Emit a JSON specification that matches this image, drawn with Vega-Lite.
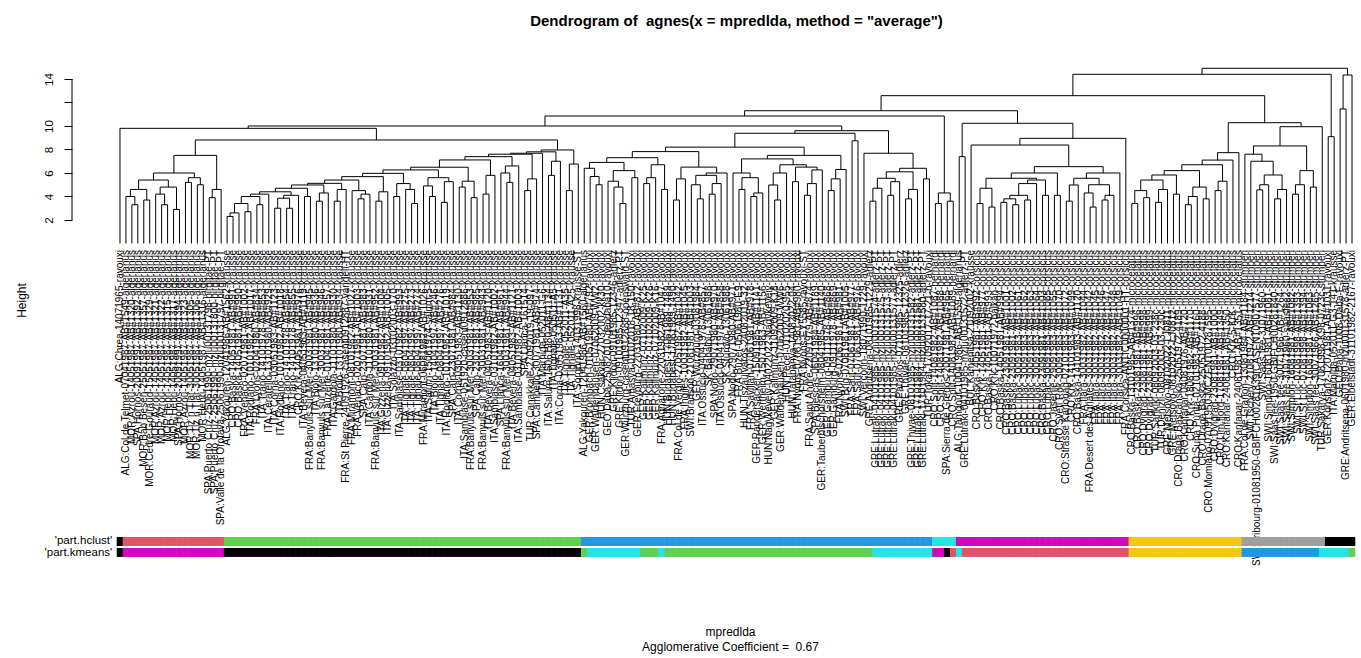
{
"$schema": "https://vega.github.io/schema/vega-lite/v6.json",
"width": 1289,
"height": 500,
"autosize": {"type": "none"},
"padding": {"left": 72, "top": 60, "right": 0, "bottom": 98},
"background": "white",
"title": {"text": "Dendrogram of\u00a0 agnes(x = mpredlda, method = \"average\")", "font": "Liberation Sans", "fontSize": 15, "fontWeight": "bold", "color": "black", "anchor": "middle", "dx": 20, "offset": 19, "baseline": "alphabetic"},
"config": {"view": {"stroke": null}, "axis": {"grid": false, "labelFont": "Liberation Sans", "titleFont": "Liberation Sans", "labelColor": "black", "titleColor": "black", "tickColor": "black", "domainColor": "black"}, "text": {"font": "Liberation Sans"}, "scale": {"continuousPadding": 0}},
"datasets": {
"leaves": [
{"i":1,"label":"ALG:Chrea-14071965-ravouxi","hc":1,"km":1},
{"i":2,"label":"ALG:Col de Telmet-07041987-AB#1549-algerianus","hc":2,"km":6},
{"i":3,"label":"MOR:Azrou-14051987-AB#1320-algerianus","hc":2,"km":6},
{"i":4,"label":"SPA:Hornos-20091997-AB#1392-algerianus","hc":2,"km":6},
{"i":5,"label":"MOR:Bab Besen-25051987-AB#1357-algerianus","hc":2,"km":6},
{"i":6,"label":"MOR:Cedre Gouraud-15051987-AB#1329-algerianus","hc":2,"km":6},
{"i":7,"label":"MOR:Azrou-14051987-AB#1321-algerianus","hc":2,"km":6},
{"i":8,"label":"MOR:Azrou-14051987-AB#1322-algerianus","hc":2,"km":6},
{"i":9,"label":"MOR:Hebri-14051987-AB#1315-algerianus","hc":2,"km":6},
{"i":10,"label":"MOR:Hebri-14051987-AB#1317-algerianus","hc":2,"km":6},
{"i":11,"label":"SPA:Hornos-20091997-AB#1394-algerianus","hc":2,"km":6},
{"i":12,"label":"MOR:Azrou-14051987-AB#1323-algerianus","hc":2,"km":6},
{"i":13,"label":"MOR:Tiz n Tlar-30051987-AB#1305-algerianus","hc":2,"km":6},
{"i":14,"label":"MOR:Tiz n Tlar-30051987-AB#1306-algerianus","hc":2,"km":6},
{"i":15,"label":"MOR:Hebri-14051987-AB#1316-algerianus","hc":2,"km":6},
{"i":16,"label":"SPA:Puerto Cruz-25061990-mzlu00131798-birgitae-PT","hc":2,"km":6},
{"i":17,"label":"SPA:Puerto Cruz-25061990-mzlu00131800-birgitae-PT","hc":2,"km":6},
{"i":18,"label":"SPA:Valle de la Orotava-25061990-mzlu00131797-birgitae-PT","hc":2,"km":6},
{"i":19,"label":"ALG:Yakouren-12041986-AB#1562-krausse","hc":3,"km":1},
{"i":20,"label":"CRO:Baska-14051981-AB#991-krausse","hc":3,"km":1},
{"i":21,"label":"CRO:Baska-14051981-AB#990-krausse","hc":3,"km":1},
{"i":22,"label":"FRA:Venaco-02071981-AB#1002-krausse","hc":3,"km":1},
{"i":23,"label":"ITA:Rodiano-10101982-AB#1017-krausse","hc":3,"km":1},
{"i":24,"label":"FRA:Lyons-02041980-AB#834-krausse","hc":3,"km":1},
{"i":25,"label":"ITA:Trano-14101978-AB#853-krausse","hc":3,"km":1},
{"i":26,"label":"ITA:Ceratello-13101980-AB#929-krausse","hc":3,"km":1},
{"i":27,"label":"ITA:Corna-03051983-AB#1123-krausse","hc":3,"km":1},
{"i":28,"label":"ITA:Rodiano-10101982-AB#1018-krausse","hc":3,"km":1},
{"i":29,"label":"ITA:Trano-14101978-AB#854-krausse","hc":3,"km":1},
{"i":30,"label":"ITA:Trano-14101978-AB#855-krausse","hc":3,"km":1},
{"i":31,"label":"CRO:Krk-14051981-AB#976-krausse","hc":3,"km":1},
{"i":32,"label":"ITA:Bevera-04051983-AB#1119-krausse","hc":3,"km":1},
{"i":33,"label":"FRA:Banyuls sur Mer-30031981-AB#945-krausse","hc":3,"km":1},
{"i":34,"label":"ITA:Biolo-13101980-AB#936-krausse","hc":3,"km":1},
{"i":35,"label":"FRA:Banyuls sur Mer-30031981-AB#946-krausse","hc":3,"km":1},
{"i":36,"label":"FRA:Lauzerte-01041981-AB#957-krausse","hc":3,"km":1},
{"i":37,"label":"ITA:Gardola-11101980-AB#930-krausse","hc":3,"km":1},
{"i":38,"label":"ITA:Biolo-13101980-AB#934-krausse","hc":3,"km":1},
{"i":39,"label":"FRA:St Pierre-24091926-casent0912887-vandeli-HT","hc":3,"km":1},
{"i":40,"label":"FRA:Miramont-08101982-AB#1027-krausse","hc":3,"km":1},
{"i":41,"label":"FRA:Venaco-02071981-AB#1003-krausse","hc":3,"km":1},
{"i":42,"label":"SPA:Calp-23071981-AB#983-krausse","hc":3,"km":1},
{"i":43,"label":"ITA:Gardola-11101980-AB#931-krausse","hc":3,"km":1},
{"i":44,"label":"FRA:Banyuls sur Mer-30031981-AB#952-krausse","hc":3,"km":1},
{"i":45,"label":"ITA:Gizzeria-09101982-AB#1004-krausse","hc":3,"km":1},
{"i":46,"label":"ITA:Gizzeria-09101982-AB#1005-krausse","hc":3,"km":1},
{"i":47,"label":"ITA:Solazzo-03102003-170-krausse","hc":3,"km":1},
{"i":48,"label":"ITA:Sambiase-03101982-AB#993-krausse","hc":3,"km":1},
{"i":49,"label":"ITA:Tignale-08041997-AB#275-krausse","hc":3,"km":1},
{"i":50,"label":"ITA:Tignale-08041997-AB#273-krausse","hc":3,"km":1},
{"i":51,"label":"ITA:Tignale-08041997-AB#274-krausse","hc":3,"km":1},
{"i":52,"label":"FRA:Miramont-06081982-AB#1026-krausse","hc":3,"km":1},
{"i":53,"label":"ITA:Salurn-15061974-salurn-5-krausse","hc":3,"km":1},
{"i":54,"label":"ITA:Biolo-14041997-AB#246-krausse","hc":3,"km":1},
{"i":55,"label":"ITA:Tignale-08041997-AB#276-krausse","hc":3,"km":1},
{"i":56,"label":"ITA:Rodiano-10101982-AB#1019-krausse","hc":3,"km":1},
{"i":57,"label":"SPA:Calp-23071981-AB#984-krausse","hc":3,"km":1},
{"i":58,"label":"ITA:Corna-03051983-AB#1130-krausse","hc":3,"km":1},
{"i":59,"label":"ITA:Sambiase-051920-casent0912886-krausse","hc":3,"km":1},
{"i":60,"label":"FRA:Banyuls sur Mer-30031981-AB#953-krausse","hc":3,"km":1},
{"i":61,"label":"SPA:Calp-23071981-AB#985-krausse","hc":3,"km":1},
{"i":62,"label":"FRA:Banyuls sur Mer-30031981-AB#943-krausse","hc":3,"km":1},
{"i":63,"label":"ITA:Bevera-04051983-AB#1120-krausse","hc":3,"km":1},
{"i":64,"label":"ITA:Sambiase-03101982-AB#1002-krausse","hc":3,"km":1},
{"i":65,"label":"SPA:Llanca-16041981-AB#961-krausse","hc":3,"km":1},
{"i":66,"label":"FRA:Banyuls sur Mer-30031981-AB#944-krausse","hc":3,"km":1},
{"i":67,"label":"ITA:Bevera-04051983-AB#1121-krausse","hc":3,"km":1},
{"i":68,"label":"ITA:Sambiase-03101982-AB#1003-krausse","hc":3,"km":1},
{"i":69,"label":"SPA:Llanca-161514-krausse","hc":3,"km":1},
{"i":70,"label":"TUR:Canakkale-27092019-19-097-krausse","hc":3,"km":1},
{"i":71,"label":"SPA:Campello-30071981-AB#974-krausse","hc":3,"km":1},
{"i":72,"label":"ITA:Marniga-052011-G6-krausse","hc":3,"km":1},
{"i":73,"label":"ITA:Salurn-15061980-AB#1134-krausse","hc":3,"km":1},
{"i":74,"label":"ITA:Tignale-050511-A5-krausse","hc":3,"km":1},
{"i":75,"label":"ITA:Corna-03051983-AB#1131-krausse","hc":3,"km":1},
{"i":76,"label":"ITA:Tignale-052011-A35-krausse","hc":3,"km":1},
{"i":77,"label":"ITA:Tignale-052011-A25-krausse","hc":3,"km":1},
{"i":78,"label":"ITA:Sorgono-14031998-krausse-ST","hc":3,"km":1},
{"i":79,"label":"ALG:Yakouren-12041986-AB#1560-algerianus","hc":4,"km":3},
{"i":80,"label":"GER:Brombach-01051980-AB#792-ravouxi","hc":4,"km":5},
{"i":81,"label":"GER:Waldenhausen-07062009-WW2-ravouxi","hc":4,"km":5},
{"i":82,"label":"HUN:Csakvar-27032002-kk30-ravouxi","hc":4,"km":5},
{"i":83,"label":"GEO:Daba-25082010-geodaba10-ravouxi","hc":4,"km":5},
{"i":84,"label":"GRE:Klidon-09101985-12346-adlerz","hc":4,"km":5},
{"i":85,"label":"GRE:Klidon-09101985-12347-adlerz-PT","hc":4,"km":5},
{"i":86,"label":"GER:Wurzburg-casent0912888-openswald-ST","hc":4,"km":5},
{"i":87,"label":"TUR:Amasya-01102018-18-150-ravouxi","hc":4,"km":5},
{"i":88,"label":"GER:Freyburg-22031980-AB#872-ravouxi","hc":4,"km":5},
{"i":89,"label":"GER:Kallmunz-07102009-K25-ravouxi","hc":4,"km":3},
{"i":90,"label":"GER:Kallmunz-07102009-K26-ravouxi","hc":4,"km":3},
{"i":91,"label":"GER:Kallmunz-07102009-K16-ravouxi","hc":4,"km":3},
{"i":92,"label":"FRA:Agnarone-22031982-AB#1047-ravouxi","hc":4,"km":5},
{"i":93,"label":"HUN:Budapest-17061989-1489-ravouxi","hc":4,"km":3},
{"i":94,"label":"HUN:Budapest-17061989-1490-ravouxi","hc":4,"km":3},
{"i":95,"label":"FRA:Col de Vergio-27051982-AB#1042-ravouxi","hc":4,"km":3},
{"i":96,"label":"FRA:Ingiles-10031982-AB#1045-ravouxi","hc":4,"km":3},
{"i":97,"label":"SWI:Branson-21081981-AB#1003-ravouxi","hc":4,"km":3},
{"i":98,"label":"GER:Wurzburg-03081984-ravouxi","hc":4,"km":3},
{"i":99,"label":"ITA:Ossucio-04041978-AB#857-ravouxi","hc":4,"km":3},
{"i":100,"label":"SK:Babalou-13061988-ravouxi","hc":4,"km":3},
{"i":101,"label":"SPA:Nodo-29071980-AB#970-ravouxi","hc":4,"km":3},
{"i":102,"label":"ITA:Ossucio-04041978-AB#858-ravouxi","hc":4,"km":3},
{"i":103,"label":"SK:Sturovo-13061988-ravouxi","hc":4,"km":3},
{"i":104,"label":"SPA:Nodo-29071980-AB#971-ravouxi","hc":4,"km":3},
{"i":105,"label":"FRA:Buzet-05061980-E9-ravouxi","hc":4,"km":3},
{"i":106,"label":"HUN:Tiszaujvaros-24082019-32-ravouxi","hc":4,"km":3},
{"i":107,"label":"FRA:Savillan-07061981-AB#978-ravouxi","hc":4,"km":3},
{"i":108,"label":"GER:Randersacker-15091985-AB#1141-ravouxi","hc":4,"km":3},
{"i":109,"label":"GER:Wertheim-15071983-AB#1156-ravouxi","hc":4,"km":3},
{"i":110,"label":"HUN:Nagykeveiy-04022022-Nagykeveiy-ravouxi","hc":4,"km":3},
{"i":111,"label":"GER:Kallmunz-11092009-K18-ravouxi","hc":4,"km":3},
{"i":112,"label":"GER:Waldenhausen-07062009-WW6-ravouxi","hc":4,"km":3},
{"i":113,"label":"HUN:Pecel-01102020-955-ravouxi","hc":4,"km":3},
{"i":114,"label":"HUN:Tatabanya-14082022-04-ravouxi","hc":4,"km":3},
{"i":115,"label":"FRA:Nyons-07061981-AB#980-ravouxi","hc":4,"km":3},
{"i":116,"label":"FRA:Nyons-EY5585-ravouxi-ST","hc":4,"km":3},
{"i":117,"label":"FRA:Saint Andre-22091979-AB#874-ravouxi","hc":4,"km":3},
{"i":118,"label":"SPA:Biescas-06041984-AB#1189-ravouxi","hc":4,"km":3},
{"i":119,"label":"GER:Tauberbischofsheim-08041985-AB#1140-ravouxi","hc":4,"km":3},
{"i":120,"label":"GER:Gamburg-09111978-AB#868-ravouxi","hc":4,"km":3},
{"i":121,"label":"GER:Gamburg-09111978-AB#869-ravouxi","hc":4,"km":3},
{"i":122,"label":"FRA:Nyons-02061981-AB#981-ravouxi","hc":4,"km":3},
{"i":123,"label":"SWI:Brig-07081981-AB#1005-ravouxi","hc":4,"km":3},
{"i":124,"label":"FRA:Saut-07061981-AB#977-ravouxi","hc":4,"km":3},
{"i":125,"label":"FRA:Saut-07061981-AB#976-ravouxi","hc":4,"km":3},
{"i":126,"label":"SWI:Vercorin-18071990-1229-ravouxi","hc":4,"km":3},
{"i":127,"label":"GRE:Andritsena-08101985-1229-adlerz","hc":4,"km":3},
{"i":128,"label":"GRE:Lutraki-04101985-mzlu00131574-adlerz-PT","hc":4,"km":5},
{"i":129,"label":"GRE:Lutraki-04101985-mzlu00131575-adlerz-PT","hc":4,"km":5},
{"i":130,"label":"GRE:Lutraki-04101985-mzlu00131573-adlerz-PT","hc":4,"km":5},
{"i":131,"label":"GRE:Lutraki-04101985-mzlu00131577-adlerz-PT","hc":4,"km":5},
{"i":132,"label":"GRE:Parakios-07101985-12325-adlerz","hc":4,"km":5},
{"i":133,"label":"GRE:Thivae-08101985-12326-adlerz","hc":4,"km":5},
{"i":134,"label":"GRE:Thivae-08101985-mzlu00131582-adlerz-PT","hc":4,"km":5},
{"i":135,"label":"GRE:Lutraki-17101984-mzlu00131581-adlerz-PT","hc":4,"km":5},
{"i":136,"label":"GRE:Lutraki-17101984-mzlu00131580-adlerz-PT","hc":4,"km":5},
{"i":137,"label":"TUR:Tokat-17092017-17-21-b-ravouxi","hc":4,"km":5},
{"i":138,"label":"CRO:Split-14081982-AB#1087-bernardi","hc":5,"km":6},
{"i":139,"label":"CRO:Split-14081982-AB#1088-bernardi","hc":5,"km":6},
{"i":140,"label":"SPA:Sierra de Gredos-20071981-AB#965-bernardi","hc":5,"km":1},
{"i":141,"label":"CRO:Split-14081982-AB#1089-bernardi","hc":5,"km":2},
{"i":142,"label":"ALG:Tamgout-10041986-AB#1559-algerianus","hc":6,"km":5},
{"i":143,"label":"GRE:Lutraki-04101985-mzlu00131572-adlerz-PT","hc":6,"km":2},
{"i":144,"label":"BUL:Kamenitsa-21092002-krausse","hc":6,"km":2},
{"i":145,"label":"CRO:Baska-14051981-AB#992-corsicus","hc":6,"km":2},
{"i":146,"label":"CRO:Krk-14051981-AB#977-corsicus","hc":6,"km":2},
{"i":147,"label":"CRO:Baska-14051981-AB#993-corsicus","hc":6,"km":2},
{"i":148,"label":"CRO:Krk-10071972-balkan-corsicus","hc":6,"km":2},
{"i":149,"label":"CRO:Baska-14051981-AB#994-corsicus","hc":6,"km":2},
{"i":150,"label":"CRO:Baska-23091981-AB#1001-corsicus","hc":6,"km":2},
{"i":151,"label":"CRO:Baska-23091981-AB#1002-corsicus","hc":6,"km":2},
{"i":152,"label":"CRO:Lubac-30091983-AB#1061-corsicus","hc":6,"km":2},
{"i":153,"label":"CRO:Lubac-30091983-AB#1062-corsicus","hc":6,"km":2},
{"i":154,"label":"CRO:Lubac-30091983-AB#1063-corsicus","hc":6,"km":2},
{"i":155,"label":"CRO:Lubac-30091983-AB#1064-corsicus","hc":6,"km":2},
{"i":156,"label":"CRO:Baska-23091981-AB#1003-corsicus","hc":6,"km":2},
{"i":157,"label":"CRO:Lubac-30091983-AB#1065-corsicus","hc":6,"km":2},
{"i":158,"label":"CRO:Jasenje-29091983-AB#1055-corsicus","hc":6,"km":2},
{"i":159,"label":"CRO:Sveti Rok-30091983-AB#1070-corsicus","hc":6,"km":2},
{"i":160,"label":"CRO:Strasse Karlobag-02101983-AB#1072-corsicus","hc":6,"km":2},
{"i":161,"label":"CRO:Krk-14101983-AB#1099-corsicus","hc":6,"km":2},
{"i":162,"label":"CRO:Baska-14101983-AB#1120-corsicus","hc":6,"km":2},
{"i":163,"label":"FRA:Ilara-30031982-AB#1044-corsicus","hc":6,"km":2},
{"i":164,"label":"FRA:Desert des Agriates-30031982-AB#1042-corsicus","hc":6,"km":2},
{"i":165,"label":"FRA:Ilara-30031982-AB#1045-corsicus","hc":6,"km":2},
{"i":166,"label":"FRA:Ilara-30031982-AB#1046-corsicus","hc":6,"km":2},
{"i":167,"label":"FRA:Ilara-30031982-AB#1047-corsicus","hc":6,"km":2},
{"i":168,"label":"FRA:Ilara-30031982-AB#1048-corsicus","hc":6,"km":2},
{"i":169,"label":"FRA:Ilara-30031982-AB#1049-corsicus","hc":6,"km":2},
{"i":170,"label":"FRA:Corsica-ANTIC0000001-HT-corsicus","hc":6,"km":2},
{"i":171,"label":"CRO:Baska-13101985-AB#1374-microcelatus","hc":7,"km":7},
{"i":172,"label":"CRO:Baska-23081981-AB#996-microcelatus","hc":7,"km":7},
{"i":173,"label":"CRO:Dvigrad-23081981-AB#998-microcelatus","hc":7,"km":7},
{"i":174,"label":"CRO:Dvigrad-23081981-AB#999-microcelatus","hc":7,"km":7},
{"i":175,"label":"TUR:Sarikiki-08092003-03-238c-microcelatus","hc":7,"km":7},
{"i":176,"label":"TUR:Denizli-08092003-03-230c-microcelatus","hc":7,"km":7},
{"i":177,"label":"GRE:Metsovo-08102022-LJ0811-microcelatus","hc":7,"km":7},
{"i":178,"label":"GRE:Metsovo-08102022-LJ0812-microcelatus","hc":7,"km":7},
{"i":179,"label":"CRO:Draga Bascanska-25051972-4189-microcelatus","hc":7,"km":7},
{"i":180,"label":"CRO:Kanfanar-04081976-AB#720-microcelatus","hc":7,"km":7},
{"i":181,"label":"CRO:Krk-18081982-AB#1170-microcelatus","hc":7,"km":7},
{"i":182,"label":"CRO:Suha Punta-02101983-AB#1160-microcelatus","hc":7,"km":7},
{"i":183,"label":"CRO:Draga Baska-25051972-4188-microcelatus","hc":7,"km":7},
{"i":184,"label":"CRO:Momiano-07091950-MCZENT00287595-microcelatus","hc":7,"km":7},
{"i":185,"label":"CRO:Dvigrad-23081981-AB#1000-microcelatus","hc":7,"km":7},
{"i":186,"label":"CRO:Lim fjord-17081987-AB#1349-microcelatus","hc":7,"km":7},
{"i":187,"label":"CRO:Kanfanar-24081981-AB#1350-microcelatus","hc":7,"km":7},
{"i":188,"label":"CRO:Krk-5-KrK-microcelatus","hc":7,"km":7},
{"i":189,"label":"CRO:Kanfanar-24081981-AB#1351-microcelatus","hc":7,"km":7},
{"i":190,"label":"FRA:Col de Granon-13081984-AB#1184-stumperi","hc":8,"km":4},
{"i":191,"label":"SWI:Tschery-21081972-AB#1214-stumperi","hc":8,"km":4},
{"i":192,"label":"SWI:Fribourg-01081950-GBIFCH00281839|CASENT0907577-stumperi","hc":8,"km":4},
{"i":193,"label":"SWI:Saas fee-31071960-stumperi","hc":8,"km":4},
{"i":194,"label":"SWI:Simplon-16081981-AB#1081-stumperi","hc":8,"km":4},
{"i":195,"label":"SWI:Saas fee-1950-GBIFCH00281840-stumperi","hc":8,"km":4},
{"i":196,"label":"SWI:Saas fee-30071966-AB#1264-stumperi","hc":8,"km":4},
{"i":197,"label":"SWI:Saas fee-31071960-saasfee2-stumperi","hc":8,"km":4},
{"i":198,"label":"SWI:Simplon-16081981-AB#1082-stumperi","hc":8,"km":4},
{"i":199,"label":"SWI:St Luc-07081998-AB#1393-stumperi","hc":8,"km":4},
{"i":200,"label":"SWI:St Luc-07081998-AB#1394-stumperi","hc":8,"km":4},
{"i":201,"label":"SWI:Simplon-16081981-AB#1083-stumperi","hc":8,"km":4},
{"i":202,"label":"SWI:Saas fee-30071966-AB#1265-stumperi","hc":8,"km":4},
{"i":203,"label":"TUR:Sakarya-17081998-K98-0723c-stumperi","hc":8,"km":5},
{"i":204,"label":"GER:Konstanz-12071981-AB#1031-ravouxi","hc":1,"km":5},
{"i":205,"label":"ITA:Marniga-052011-G3-141-krausse","hc":1,"km":5},
{"i":206,"label":"GEO:Daba-1008-Daba-E-ravouxi","hc":1,"km":5},
{"i":207,"label":"GRE:Andritsena-0601980-mzlu00131578-adlerz-PT","hc":1,"km":5},
{"i":208,"label":"GER:Elbelstadt-31101982-2167-ravouxi","hc":1,"km":3}
],
"merges": [
{"xl":3,"hl":0,"xr":4,"hr":0,"h":3.3},
{"xl":2,"hl":0,"xr":3.5,"hr":3.3,"h":4.0},
{"xl":5,"hl":0,"xr":6,"hr":0,"h":3.7},
{"xl":2.75,"hl":4.0,"xr":5.5,"hr":3.7,"h":4.6},
{"xl":8,"hl":0,"xr":9,"hr":0,"h":3.3},
{"xl":7,"hl":0,"xr":8.5,"hr":3.3,"h":4.2},
{"xl":10,"hl":0,"xr":11,"hr":0,"h":2.9},
{"xl":7.75,"hl":4.2,"xr":10.5,"hr":2.9,"h":4.8},
{"xl":4.125,"hl":4.6,"xr":9.125,"hr":4.8,"h":5.4},
{"xl":12,"hl":0,"xr":13,"hr":0,"h":5.2},
{"xl":14,"hl":0,"xr":15,"hr":0,"h":5.0},
{"xl":12.5,"hl":5.2,"xr":14.5,"hr":5.0,"h":5.6},
{"xl":6.625,"hl":5.4,"xr":13.5,"hr":5.6,"h":6.0},
{"xl":16,"hl":0,"xr":17,"hr":0,"h":3.9},
{"xl":16.5,"hl":3.9,"xr":18,"hr":0,"h":4.6},
{"xl":10.063,"hl":6.0,"xr":17.25,"hr":4.6,"h":7.5},
{"xl":19,"hl":0,"xr":20,"hr":0,"h":2.3},
{"xl":19.5,"hl":2.3,"xr":21,"hr":0,"h":2.6},
{"xl":22,"hl":0,"xr":23,"hr":0,"h":2.7},
{"xl":20.25,"hl":2.6,"xr":22.5,"hr":2.7,"h":3.4},
{"xl":24,"hl":0,"xr":25,"hr":0,"h":3.3},
{"xl":21.375,"hl":3.4,"xr":24.5,"hr":3.3,"h":4.0},
{"xl":22.938,"hl":4.0,"xr":26,"hr":0,"h":4.2},
{"xl":27,"hl":0,"xr":28,"hr":0,"h":3.0},
{"xl":29,"hl":0,"xr":30,"hr":0,"h":3.0},
{"xl":27.5,"hl":3.0,"xr":29.5,"hr":3.0,"h":3.85},
{"xl":28.5,"hl":3.85,"xr":31,"hr":0,"h":4.1},
{"xl":24.469,"hl":4.2,"xr":29.75,"hr":4.1,"h":4.4},
{"xl":32,"hl":0,"xr":33,"hr":0,"h":4.0},
{"xl":27.109,"hl":4.4,"xr":32.5,"hr":4.0,"h":4.7},
{"xl":34,"hl":0,"xr":35,"hr":0,"h":3.6},
{"xl":34.5,"hl":3.6,"xr":36,"hr":0,"h":4.3},
{"xl":29.805,"hl":4.7,"xr":35.25,"hr":4.3,"h":4.98},
{"xl":37,"hl":0,"xr":38,"hr":0,"h":3.6},
{"xl":37.5,"hl":3.6,"xr":39,"hr":0,"h":4.6},
{"xl":32.527,"hl":4.98,"xr":38.25,"hr":4.6,"h":5.12},
{"xl":41,"hl":0,"xr":42,"hr":0,"h":3.8},
{"xl":41.5,"hl":3.8,"xr":43,"hr":0,"h":4.2},
{"xl":40,"hl":0,"xr":42.25,"hr":4.2,"h":4.5},
{"xl":35.389,"hl":5.12,"xr":41.125,"hr":4.5,"h":5.4},
{"xl":44,"hl":0,"xr":45,"hr":0,"h":3.6},
{"xl":44.5,"hl":3.6,"xr":46,"hr":0,"h":4.4},
{"xl":38.257,"hl":5.4,"xr":45.25,"hr":4.4,"h":5.69},
{"xl":47,"hl":0,"xr":48,"hr":0,"h":4.0},
{"xl":50,"hl":0,"xr":51,"hr":0,"h":3.4},
{"xl":49,"hl":0,"xr":50.5,"hr":3.4,"h":4.6},
{"xl":47.5,"hl":4.0,"xr":49.75,"hr":4.6,"h":5.1},
{"xl":41.754,"hl":5.69,"xr":48.625,"hr":5.1,"h":5.97},
{"xl":53,"hl":0,"xr":54,"hr":0,"h":4.0},
{"xl":52,"hl":0,"xr":53.5,"hr":4.0,"h":4.9},
{"xl":55,"hl":0,"xr":56,"hr":0,"h":3.5},
{"xl":55.5,"hl":3.5,"xr":57,"hr":0,"h":5.26},
{"xl":52.75,"hl":4.9,"xr":56.25,"hr":5.26,"h":5.6},
{"xl":45.189,"hl":5.97,"xr":54.5,"hr":5.6,"h":6.26},
{"xl":58,"hl":0,"xr":59,"hr":0,"h":4.8},
{"xl":60,"hl":0,"xr":61,"hr":0,"h":3.9},
{"xl":58.5,"hl":4.8,"xr":60.5,"hr":3.9,"h":5.3},
{"xl":49.845,"hl":6.26,"xr":59.5,"hr":5.3,"h":6.49},
{"xl":62,"hl":0,"xr":63,"hr":0,"h":4.2},
{"xl":62.5,"hl":4.2,"xr":64,"hr":0,"h":5.8},
{"xl":54.672,"hl":6.49,"xr":63.25,"hr":5.8,"h":7.11},
{"xl":66,"hl":0,"xr":67,"hr":0,"h":5.2},
{"xl":65,"hl":0,"xr":66.5,"hr":5.2,"h":6.0},
{"xl":65.75,"hl":6.0,"xr":68,"hr":0,"h":6.6},
{"xl":58.961,"hl":7.11,"xr":66.875,"hr":6.6,"h":7.39},
{"xl":69,"hl":0,"xr":70,"hr":0,"h":4.5},
{"xl":69.5,"hl":4.5,"xr":71,"hr":0,"h":5.5},
{"xl":62.918,"hl":7.39,"xr":70.25,"hr":5.5,"h":7.6},
{"xl":66.584,"hl":7.6,"xr":72,"hr":0,"h":7.68},
{"xl":73,"hl":0,"xr":74,"hr":0,"h":5.8},
{"xl":73.5,"hl":5.8,"xr":75,"hr":0,"h":7.0},
{"xl":69.292,"hl":7.68,"xr":74.25,"hr":7.0,"h":7.8},
{"xl":76,"hl":0,"xr":77,"hr":0,"h":4.5},
{"xl":76.5,"hl":4.5,"xr":78,"hr":0,"h":6.76},
{"xl":71.771,"hl":7.8,"xr":77.25,"hr":6.76,"h":7.96},
{"xl":13.656,"hl":7.5,"xr":74.51,"hr":7.96,"h":8.81},
{"xl":1,"hl":0,"xr":44.083,"hr":8.81,"h":9.8},
{"xl":81,"hl":0,"xr":82,"hr":0,"h":5.0},
{"xl":80,"hl":0,"xr":81.5,"hr":5.0,"h":5.7},
{"xl":79,"hl":0,"xr":80.75,"hr":5.7,"h":6.4},
{"xl":85,"hl":0,"xr":86,"hr":0,"h":3.4},
{"xl":84,"hl":0,"xr":85.5,"hr":3.4,"h":4.8},
{"xl":83,"hl":0,"xr":84.75,"hr":4.8,"h":5.3},
{"xl":87,"hl":0,"xr":88,"hr":0,"h":5.6},
{"xl":83.875,"hl":5.3,"xr":87.5,"hr":5.6,"h":6.2},
{"xl":79.875,"hl":6.4,"xr":85.688,"hr":6.2,"h":6.9},
{"xl":89,"hl":0,"xr":90,"hr":0,"h":5.1},
{"xl":89.5,"hl":5.1,"xr":91,"hr":0,"h":5.6},
{"xl":92,"hl":0,"xr":93,"hr":0,"h":4.6},
{"xl":90.25,"hl":5.6,"xr":92.5,"hr":4.6,"h":6.7},
{"xl":82.781,"hl":6.9,"xr":91.375,"hr":6.7,"h":7.3},
{"xl":94,"hl":0,"xr":95,"hr":0,"h":3.7},
{"xl":94.5,"hl":3.7,"xr":96,"hr":0,"h":5.5},
{"xl":98,"hl":0,"xr":99,"hr":0,"h":3.8},
{"xl":97,"hl":0,"xr":98.5,"hr":3.8,"h":5.0},
{"xl":100,"hl":0,"xr":101,"hr":0,"h":4.2},
{"xl":100.5,"hl":4.2,"xr":102,"hr":0,"h":5.1},
{"xl":97.75,"hl":5.0,"xr":101.25,"hr":5.1,"h":5.8},
{"xl":99.5,"hl":5.8,"xr":103,"hr":0,"h":6.0},
{"xl":95.25,"hl":5.5,"xr":101.25,"hr":6.0,"h":6.5},
{"xl":87.078,"hl":7.3,"xr":98.25,"hr":6.5,"h":7.82},
{"xl":105,"hl":0,"xr":106,"hr":0,"h":4.6},
{"xl":107,"hl":0,"xr":108,"hr":0,"h":4.0},
{"xl":107.5,"hl":4.0,"xr":109,"hr":0,"h":4.3},
{"xl":105.5,"hl":4.6,"xr":108.25,"hr":4.3,"h":5.6},
{"xl":104,"hl":0,"xr":106.875,"hr":5.6,"h":6.0},
{"xl":111,"hl":0,"xr":112,"hr":0,"h":3.7},
{"xl":110,"hl":0,"xr":111.5,"hr":3.7,"h":4.98},
{"xl":110.75,"hl":4.98,"xr":113,"hr":0,"h":6.0},
{"xl":114,"hl":0,"xr":115,"hr":0,"h":5.26},
{"xl":116,"hl":0,"xr":117,"hr":0,"h":4.1},
{"xl":116.5,"hl":4.1,"xr":118,"hr":0,"h":5.1},
{"xl":117.25,"hl":5.1,"xr":119,"hr":0,"h":6.26},
{"xl":114.5,"hl":5.26,"xr":118.125,"hr":6.26,"h":6.5},
{"xl":111.875,"hl":6.0,"xr":116.313,"hr":6.5,"h":6.7},
{"xl":105.438,"hl":6.0,"xr":114.094,"hr":6.7,"h":7.2},
{"xl":120,"hl":0,"xr":121,"hr":0,"h":4.5},
{"xl":120.5,"hl":4.5,"xr":122,"hr":0,"h":5.5},
{"xl":121.25,"hl":5.5,"xr":123,"hr":0,"h":6.3},
{"xl":109.766,"hl":7.2,"xr":122.125,"hr":6.3,"h":7.5},
{"xl":92.664,"hl":7.82,"xr":115.945,"hr":7.5,"h":8.2},
{"xl":124,"hl":0,"xr":125,"hr":0,"h":8.74},
{"xl":104.305,"hl":8.2,"xr":124.5,"hr":8.74,"h":9.38},
{"xl":127,"hl":0,"xr":128,"hr":0,"h":3.6},
{"xl":127.5,"hl":3.6,"xr":129,"hr":0,"h":4.7},
{"xl":130,"hl":0,"xr":131,"hr":0,"h":4.1},
{"xl":130.5,"hl":4.1,"xr":132,"hr":0,"h":5.26},
{"xl":128.25,"hl":4.7,"xr":131.25,"hr":5.26,"h":5.55},
{"xl":133,"hl":0,"xr":134,"hr":0,"h":3.8},
{"xl":133.5,"hl":3.8,"xr":135,"hr":0,"h":4.6},
{"xl":129.75,"hl":5.55,"xr":134.25,"hr":4.6,"h":6.1},
{"xl":136,"hl":0,"xr":137,"hr":0,"h":5.5},
{"xl":132,"hl":6.1,"xr":136.5,"hr":5.5,"h":6.4},
{"xl":126,"hl":0,"xr":134.25,"hr":6.4,"h":7.68},
{"xl":114.402,"hl":9.38,"xr":130.125,"hr":7.68,"h":9.6},
{"xl":22.542,"hl":9.8,"xr":122.264,"hr":9.6,"h":10.0},
{"xl":138,"hl":0,"xr":139,"hr":0,"h":3.4},
{"xl":140,"hl":0,"xr":141,"hr":0,"h":3.6},
{"xl":138.5,"hl":3.4,"xr":140.5,"hr":3.6,"h":4.3},
{"xl":72.403,"hl":10.0,"xr":139.5,"hr":4.3,"h":10.85},
{"xl":142,"hl":0,"xr":143,"hr":0,"h":7.39},
{"xl":145,"hl":0,"xr":146,"hr":0,"h":3.4},
{"xl":147,"hl":0,"xr":148,"hr":0,"h":3.1},
{"xl":145.5,"hl":3.4,"xr":147.5,"hr":3.1,"h":4.7},
{"xl":149,"hl":0,"xr":150,"hr":0,"h":3.5},
{"xl":151,"hl":0,"xr":152,"hr":0,"h":3.3},
{"xl":149.5,"hl":3.5,"xr":151.5,"hr":3.3,"h":3.8},
{"xl":153,"hl":0,"xr":154,"hr":0,"h":3.7},
{"xl":150.5,"hl":3.8,"xr":153.5,"hr":3.7,"h":4.1},
{"xl":152,"hl":4.1,"xr":155,"hr":0,"h":5.1},
{"xl":156,"hl":0,"xr":157,"hr":0,"h":4.1},
{"xl":153.5,"hl":5.1,"xr":156.5,"hr":4.1,"h":5.4},
{"xl":146.5,"hl":4.7,"xr":155,"hr":5.4,"h":5.55},
{"xl":158,"hl":0,"xr":159,"hr":0,"h":4.1},
{"xl":150.75,"hl":5.55,"xr":158.5,"hr":4.1,"h":6.0},
{"xl":160,"hl":0,"xr":161,"hr":0,"h":3.6},
{"xl":160.5,"hl":3.6,"xr":162,"hr":0,"h":4.98},
{"xl":164,"hl":0,"xr":165,"hr":0,"h":3.1},
{"xl":163,"hl":0,"xr":164.5,"hr":3.1,"h":4.3},
{"xl":166,"hl":0,"xr":167,"hr":0,"h":3.7},
{"xl":166.5,"hl":3.7,"xr":168,"hr":0,"h":4.1},
{"xl":163.75,"hl":4.3,"xr":167.25,"hr":4.1,"h":5.0},
{"xl":161.25,"hl":4.98,"xr":165.5,"hr":5.0,"h":5.55},
{"xl":163.375,"hl":5.55,"xr":169,"hr":0,"h":6.0},
{"xl":154.625,"hl":6.0,"xr":166.188,"hr":6.0,"h":6.54},
{"xl":144,"hl":0,"xr":160.406,"hr":6.54,"h":8.38},
{"xl":152.203,"hl":8.38,"xr":170,"hr":0,"h":8.95},
{"xl":142.5,"hl":7.39,"xr":161.102,"hr":8.95,"h":10.23},
{"xl":105.951,"hl":10.85,"xr":151.801,"hr":10.23,"h":11.3},
{"xl":171,"hl":0,"xr":172,"hr":0,"h":3.4},
{"xl":173,"hl":0,"xr":174,"hr":0,"h":3.9},
{"xl":171.5,"hl":3.4,"xr":173.5,"hr":3.9,"h":4.5},
{"xl":175,"hl":0,"xr":176,"hr":0,"h":3.5},
{"xl":175.5,"hl":3.5,"xr":177,"hr":0,"h":4.6},
{"xl":172.5,"hl":4.5,"xr":176.25,"hr":4.6,"h":5.4},
{"xl":178,"hl":0,"xr":179,"hr":0,"h":4.2},
{"xl":174.375,"hl":5.4,"xr":178.5,"hr":4.2,"h":5.83},
{"xl":180,"hl":0,"xr":181,"hr":0,"h":3.3},
{"xl":180.5,"hl":3.3,"xr":182,"hr":0,"h":4.0},
{"xl":183,"hl":0,"xr":184,"hr":0,"h":3.8},
{"xl":181.25,"hl":4.0,"xr":183.5,"hr":3.8,"h":4.8},
{"xl":176.438,"hl":5.83,"xr":182.375,"hr":4.8,"h":6.2},
{"xl":185,"hl":0,"xr":186,"hr":0,"h":4.5},
{"xl":185.5,"hl":4.5,"xr":187,"hr":0,"h":5.3},
{"xl":179.406,"hl":6.2,"xr":186.25,"hr":5.3,"h":6.7},
{"xl":182.828,"hl":6.7,"xr":188,"hr":0,"h":7.1},
{"xl":185.414,"hl":7.1,"xr":189,"hr":0,"h":7.73},
{"xl":192,"hl":0,"xr":193,"hr":0,"h":4.56},
{"xl":192.5,"hl":4.56,"xr":194,"hr":0,"h":5.0},
{"xl":195,"hl":0,"xr":196,"hr":0,"h":3.8},
{"xl":195.5,"hl":3.8,"xr":197,"hr":0,"h":4.6},
{"xl":193.25,"hl":5.0,"xr":196.25,"hr":4.6,"h":5.83},
{"xl":191,"hl":0,"xr":194.75,"hr":5.83,"h":7.0},
{"xl":190,"hl":0,"xr":192.875,"hr":7.0,"h":7.6},
{"xl":198,"hl":0,"xr":199,"hr":0,"h":4.2},
{"xl":198.5,"hl":4.2,"xr":200,"hr":0,"h":5.0},
{"xl":201,"hl":0,"xr":202,"hr":0,"h":4.8},
{"xl":199.25,"hl":5.0,"xr":201.5,"hr":4.8,"h":6.2},
{"xl":191.438,"hl":7.6,"xr":200.375,"hr":6.2,"h":8.3},
{"xl":195.906,"hl":8.3,"xr":203,"hr":0,"h":9.94},
{"xl":187.207,"hl":7.73,"xr":199.453,"hr":9.94,"h":10.28},
{"xl":128.876,"hl":11.3,"xr":193.33,"hr":10.28,"h":12.58},
{"xl":204,"hl":0,"xr":205,"hr":0,"h":9.09},
{"xl":161.103,"hl":12.58,"xr":204.5,"hr":9.09,"h":14.4},
{"xl":206,"hl":0,"xr":207,"hr":0,"h":11.45},
{"xl":206.5,"hl":11.45,"xr":208,"hr":0,"h":14.34},
{"xl":182.802,"hl":14.4,"xr":207.25,"hr":14.34,"h":14.91}
]
},
"layer": [
{"data": {"name": "leaves"},
 "mark": {"type": "text", "angle": 270, "align": "right", "baseline": "middle", "fontSize": 10, "color": "black", "font": "Liberation Sans"},
 "encoding": {
  "x": {"field": "i", "type": "quantitative", "scale": {"domain": [-7.06, 209.51], "nice": false, "zero": false, "padding": 0},
        "axis": {"orient": "bottom", "labels": false, "ticks": false, "domain": false, "grid": false, "title": ["mpredlda", "Agglomerative Coefficient =\u00a0 0.67"], "titleFontSize": 12, "titleFontWeight": "normal", "titleX": 658, "titleY": 66, "titleBaseline": "top", "titleAlign": "center", "titleLineHeight": 15}},
  "y": {"datum": -0.55, "type": "quantitative", "scale": {"domain": [-26.94, 15.617], "nice": false, "zero": false, "padding": 0},
        "axis": {"values": [2, 4, 6, 8, 10, 12, 14], "labelExpr": "datum.value == 12 ? '' : datum.label", "domain": false, "grid": false, "tickSize": 8, "labelAngle": -90, "labelAlign": "center", "labelBaseline": "alphabetic", "labelPadding": 12, "labelFontSize": 11.5, "labelOverlap": false, "title": "Height", "titleFontSize": 12, "titleFontWeight": "normal", "titleX": -51, "titleY": 240, "titleAngle": -90, "titleAlign": "center", "titleBaseline": "middle"}},
  "text": {"field": "label", "type": "nominal"}
 }},
{"data": {"name": "merges"},
 "mark": {"type": "rule", "color": "black", "strokeWidth": 1},
 "encoding": {
  "x": {"field": "xl", "type": "quantitative", "scale": {"domain": [-7.06, 209.51], "nice": false, "zero": false, "padding": 0}},
  "x2": {"field": "xr"},
  "y": {"field": "h", "type": "quantitative", "scale": {"domain": [-26.94, 15.617], "nice": false, "zero": false, "padding": 0}}
 }},
{"data": {"name": "merges"},
 "mark": {"type": "rule", "color": "black", "strokeWidth": 1},
 "encoding": {
  "x": {"field": "xl", "type": "quantitative", "scale": {"domain": [-7.06, 209.51], "nice": false, "zero": false, "padding": 0}},
  "y": {"field": "hl", "type": "quantitative", "scale": {"domain": [-26.94, 15.617], "nice": false, "zero": false, "padding": 0}},
  "y2": {"field": "h"}
 }},
{"data": {"name": "merges"},
 "mark": {"type": "rule", "color": "black", "strokeWidth": 1},
 "encoding": {
  "x": {"field": "xr", "type": "quantitative", "scale": {"domain": [-7.06, 209.51], "nice": false, "zero": false, "padding": 0}},
  "y": {"field": "hr", "type": "quantitative", "scale": {"domain": [-26.94, 15.617], "nice": false, "zero": false, "padding": 0}},
  "y2": {"field": "h"}
 }},
{"data": {"values": [{}]},
 "mark": {"type": "rule", "color": "black", "strokeWidth": 1},
 "encoding": {
  "x": {"datum": -7.06, "type": "quantitative"},
  "y": {"datum": 2, "type": "quantitative"},
  "y2": {"datum": 14}
 }},
{"data": {"name": "leaves"},
 "mark": {"type": "bar", "size": 6.5, "orient": "vertical"},
 "encoding": {
  "x": {"field": "i", "type": "quantitative", "scale": {"domain": [-7.06, 209.51], "nice": false, "zero": false, "padding": 0}},
  "y": {"datum": -24.98, "type": "quantitative"},
  "y2": {"datum": -25.75},
  "color": {"field": "hc", "type": "nominal", "scale": {"domain": [1, 2, 3, 4, 5, 6, 7, 8], "range": ["#000000", "#DF536B", "#61D04F", "#2297E6", "#28E2E5", "#CD0BBC", "#F5C710", "#9E9E9E"]}, "legend": null}
 }},
{"data": {"name": "leaves"},
 "mark": {"type": "bar", "size": 6.5, "orient": "vertical"},
 "encoding": {
  "x": {"field": "i", "type": "quantitative", "scale": {"domain": [-7.06, 209.51], "nice": false, "zero": false, "padding": 0}},
  "y": {"datum": -25.92, "type": "quantitative"},
  "y2": {"datum": -26.68},
  "color": {"field": "km", "type": "nominal", "scale": {"domain": [1, 2, 3, 4, 5, 6, 7, 8], "range": ["#000000", "#DF536B", "#61D04F", "#2297E6", "#28E2E5", "#CD0BBC", "#F5C710", "#9E9E9E"]}, "legend": null}
 }},
{"data": {"values": [{}]},
 "mark": {"type": "text", "align": "right", "baseline": "middle", "fontSize": 11.5, "color": "black", "font": "Liberation Sans"},
 "encoding": {
  "x": {"datum": -0.3, "type": "quantitative"},
  "y": {"datum": -25.3, "type": "quantitative"},
  "text": {"value": "'part.hclust'"}
 }},
{"data": {"values": [{}]},
 "mark": {"type": "text", "align": "right", "baseline": "middle", "fontSize": 11.5, "color": "black", "font": "Liberation Sans"},
 "encoding": {
  "x": {"datum": -0.3, "type": "quantitative"},
  "y": {"datum": -26.32, "type": "quantitative"},
  "text": {"value": "'part.kmeans'"}
 }}
]
}
